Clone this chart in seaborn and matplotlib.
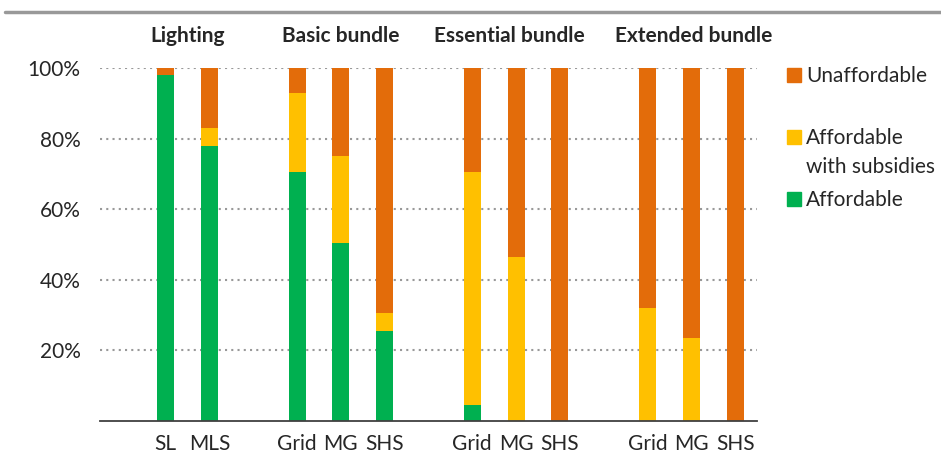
import matplotlib
import matplotlib.pyplot as plt
import pandas as pd
import seaborn as sns
from matplotlib.patches import Rectangle

matplotlib.use("Agg")

# one entry per bar; blank slots separate the groups
slots = ["g0", "L-SL", "L-MLS", "g1", "B-Grid", "B-MG", "B-SHS", "g2",
         "E-Grid", "E-MG", "E-SHS", "g3", "X-Grid", "X-MG", "X-SHS"]
slot_labels = ["", "SL", "MLS", "", "Grid", "MG", "SHS", "",
               "Grid", "MG", "SHS", "", "Grid", "MG", "SHS"]

bars = ["L-SL", "L-MLS", "B-Grid", "B-MG", "B-SHS",
        "E-Grid", "E-MG", "E-SHS", "X-Grid", "X-MG", "X-SHS"]
affordable = [98, 78, 70.5, 50.5, 25.5, 4.5, 0, 0, 0, 0, 0]
with_subsidies = [0, 5, 22.5, 24.5, 5, 66, 46.5, 0, 32, 23.5, 0]
unaffordable = [2, 17, 7, 25, 69.5, 29.5, 53.5, 100, 68, 76.5, 100]

groups = ["Lighting", "Basic bundle", "Essential bundle", "Extended bundle"]
group_pos = [1.5, 5, 8.85, 13.05]

colors = {"Unaffordable": "#E36C0A",
          "Affordable\nwith subsidies": "#FFC000",
          "Affordable": "#00B050"}

df = pd.DataFrame({"bar": bars, "aff": affordable,
                   "sub": with_subsidies, "un": unaffordable})
df["lvl2"] = df["aff"] + df["sub"]
df["lvl3"] = df["lvl2"] + df["un"]

sns.set_style("white")
plt.rcParams["font.family"] = ["Lato", "DejaVu Sans"]
FS = 15

fig = plt.figure(figsize=(9.41, 4.53), dpi=100)
ax = fig.add_axes([100 / 941, 1 - 421 / 453, 657 / 941, 353 / 453])

for col, key in [("lvl3", "Unaffordable"),
                 ("lvl2", "Affordable\nwith subsidies"),
                 ("aff", "Affordable")]:
    sns.barplot(data=df, x="bar", y=col, order=slots, color=colors[key],
                saturation=1, width=0.39, ax=ax, linewidth=0)

ax.set_ylim(0, 100)
ax.set_xlim(-0.5, len(slots) - 0.5)
ax.set_yticks([20, 40, 60, 80, 100])
ax.set_yticklabels(["20%", "40%", "60%", "80%", "100%"], fontsize=FS)
ax.set_xticks(range(len(slots)))
ax.set_xticklabels(slot_labels, fontsize=FS)
ax.set_xlabel("")
ax.set_ylabel("")
ax.tick_params(axis="y", length=0, pad=14)
ax.tick_params(axis="x", length=0, pad=9)
ax.yaxis.grid(True, linestyle=(0, (1, 2)), color="#999999", linewidth=1.5)
ax.set_axisbelow(True)
for side in ["left", "right", "top"]:
    ax.spines[side].set_visible(False)
ax.spines["bottom"].set_color("#404040")
ax.spines["bottom"].set_linewidth(1.3)

for name, pos in zip(groups, group_pos):
    ax.text(pos, 1.09, name, transform=ax.get_xaxis_transform(),
            ha="center", va="center", fontsize=FS, fontweight="bold")

# grey rule across the top
fig.add_artist(plt.Line2D([0.005, 1], [1 - 12 / 453, 1 - 12 / 453],
                          color="#999999", linewidth=2.5))

# legend drawn by hand to follow the uneven spacing of the original
legend_y = [75, 137, 199]
for (label, c), y in zip(colors.items(), legend_y):
    fig.add_artist(Rectangle((787 / 941, 1 - (y + 7) / 453), 14 / 941,
                             14 / 453, color=c, transform=fig.transFigure))
    fig.text(806 / 941, 1 - (y - 9) / 453, label, fontsize=FS,
             ha="left", va="top", linespacing=1.55)

fig.savefig("out.png", dpi=100)
